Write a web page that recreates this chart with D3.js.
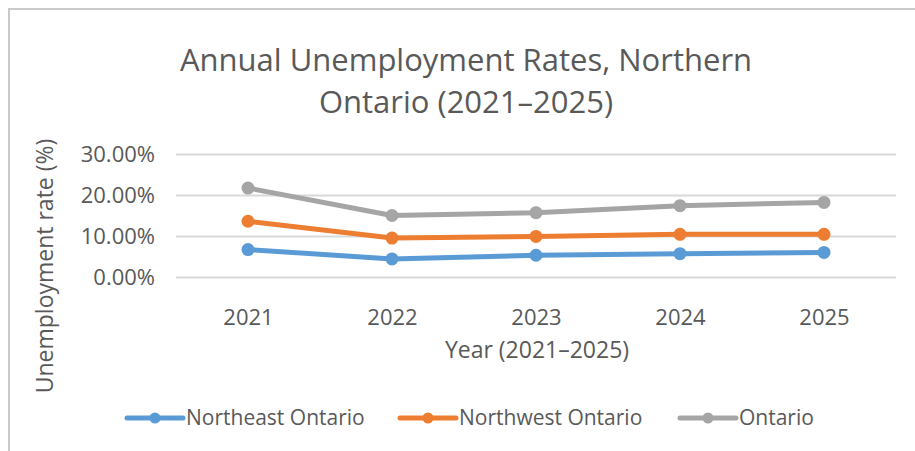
<!DOCTYPE html>
<html>
<head>
<meta charset="utf-8">
<script src="https://cdn.jsdelivr.net/npm/d3@7"></script>
<style>
  body { margin: 0; background: #fff; }
  text { font-family: "Open Sans", sans-serif; fill: #595959; }
</style>
</head>
<body>
<script>
var years = ['2021', '2022', '2023', '2024', '2025']
var northeast = [0.067, 0.044, 0.053, 0.057, 0.060]
var northwest = [0.136, 0.095, 0.099, 0.104, 0.104]
var ontario = [0.217, 0.150, 0.157, 0.174, 0.182]
var yTicks = [0, 0.1, 0.2, 0.3]
var seriesNames = ['Northeast Ontario', 'Northwest Ontario', 'Ontario']
var seriesColors = ['#5b9bd5', '#ed7d31', '#a5a5a5']
var titleLines = ['Annual Unemployment Rates, Northern', 'Ontario (2021–2025)']

var series = [northeast, northwest, ontario].map(function (vals, i) {
  return {name: seriesNames[i], color: seriesColors[i], values: vals}
})

var W = 915, H = 451
var plot = {left: 176, right: 896, top: 154, bottom: 277}

var svg = d3.select('body').append('svg')
  .attr('width', W)
  .attr('height', H)

// chart frame (only top/left edges show in the crop)
svg.append('rect')
  .attr('x', 9).attr('y', 9)
  .attr('width', W + 10).attr('height', H + 10)
  .attr('fill', '#fff')
  .attr('stroke', '#c9c9c9')
  .attr('stroke-width', 2)

var x = d3.scalePoint().domain(years).range([plot.left, plot.right]).padding(0.5)
var y = d3.scaleLinear().domain([0, 0.3]).range([plot.bottom, plot.top])

// title, two lines
svg.selectAll('.title')
  .data(titleLines)
  .enter().append('text')
  .attr('class', 'title')
  .attr('x', 466)
  .attr('y', function (d, i) { return 71 + i * 42 })
  .attr('text-anchor', 'middle')
  .style('font-size', '31px')
  .text(function (d) { return d })

// y gridlines + labels
var yAxis = svg.append('g')
  .attr('transform', `translate(${plot.left}, 0)`)
  .call(d3.axisLeft(y).tickValues(yTicks).tickFormat(d3.format('.2%'))
    .tickSize(-(plot.right - plot.left)).tickPadding(21))
yAxis.select('.domain').remove()
yAxis.selectAll('.tick line').attr('stroke', '#d9d9d9').attr('stroke-width', 2)
yAxis.selectAll('.tick text')
  .style('font-size', '22px')
  .style('font-family', '"Open Sans", sans-serif')
  .attr('fill', '#595959')

// x labels
var xAxis = svg.append('g')
  .attr('transform', `translate(0, ${plot.bottom})`)
  .call(d3.axisBottom(x).tickSize(0).tickPadding(32))
xAxis.select('.domain').remove()
xAxis.selectAll('.tick text')
  .style('font-size', '22px')
  .style('font-family', '"Open Sans", sans-serif')
  .attr('fill', '#595959')

// axis titles
svg.append('text')
  .attr('x', 537).attr('y', 358)
  .attr('text-anchor', 'middle')
  .style('font-size', '23px')
  .text('Year (2021–2025)')
svg.append('text')
  .attr('transform', 'translate(53, 266) rotate(-90)')
  .attr('text-anchor', 'middle')
  .style('font-size', '23px')
  .text('Unemployment rate (%)')

// lines
var line = d3.line()
  .x(function (d, i) { return x(years[i]) })
  .y(function (d) { return y(d) })

series.forEach(function (s) {
  svg.append('path')
    .datum(s.values)
    .attr('fill', 'none')
    .attr('stroke', s.color)
    .attr('stroke-width', 5)
    .attr('stroke-linejoin', 'round')
    .attr('d', line)
  svg.selectAll(null)
    .data(s.values)
    .enter().append('circle')
    .attr('cx', function (d, i) { return x(years[i]) })
    .attr('cy', function (d) { return y(d) })
    .attr('r', 6.5)
    .attr('fill', s.color)
})

// legend
var legendX = [127, 400, 680]
var legend = svg.selectAll('.legend')
  .data(series)
  .enter().append('g')
  .attr('class', 'legend')
  .attr('transform', function (d, i) { return `translate(${legendX[i]}, 418)` })
legend.append('line')
  .attr('x1', 0).attr('x2', 56)
  .attr('stroke', function (d) { return d.color })
  .attr('stroke-width', 5)
  .attr('stroke-linecap', 'round')
legend.append('circle')
  .attr('cx', 28).attr('r', 5.5)
  .attr('fill', function (d) { return d.color })
legend.append('text')
  .attr('x', 59).attr('dy', '0.35em')
  .style('font-size', '21px')
  .text(function (d) { return d.name })
</script>
</body>
</html>
